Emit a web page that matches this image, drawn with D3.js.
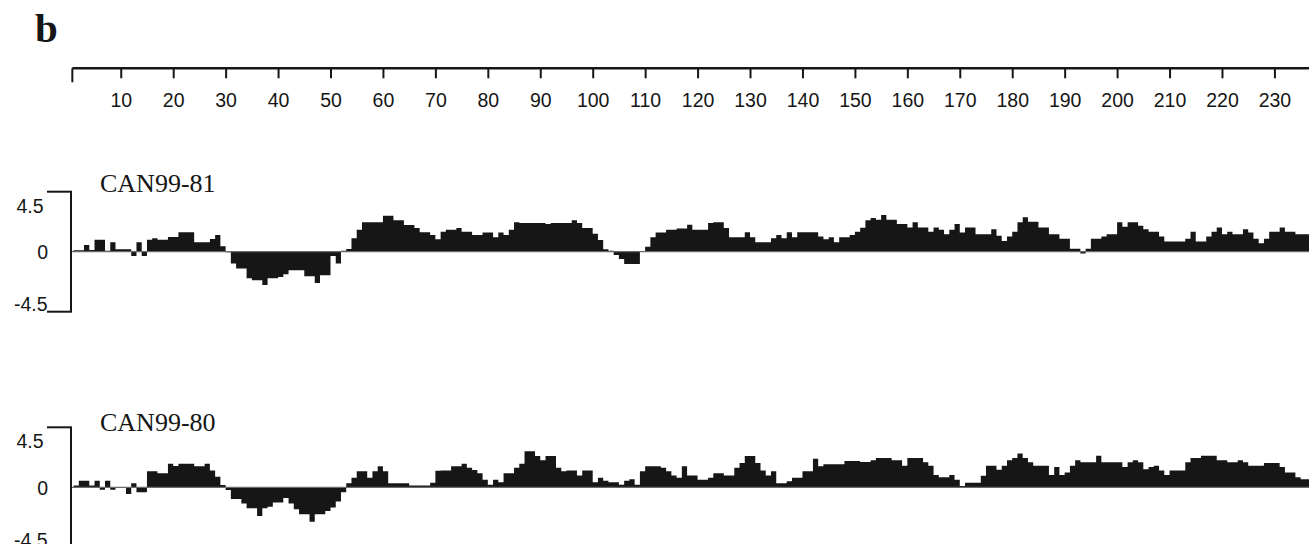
<!DOCTYPE html>
<html>
<head>
<meta charset="utf-8">
<script src="https://cdn.jsdelivr.net/npm/d3@7"></script>
<style>
  body { margin: 0; background: #fff; }
  svg { display: block; }
</style>
</head>
<body>
<svg id="chart" width="1309" height="544"></svg>
<script>
// residue profiles, one value per position (1..236)
const panelNames = ["CAN99-81", "CAN99-80"];

const can9981 = [
  0.1, 0.1, 0.5, 0.12, 0.9, 0.9, 0.08, 0.7, 0.18, 0.18,
  0.18, -0.33, 0.7, -0.33, 0.9, 1.0, 0.9, 0.9, 1.1, 1.1,
  1.45, 1.45, 1.45, 0.7, 0.7, 0.7, 0.95, 1.25, 0.4, -0.05,
  -0.88, -1.26, -1.26, -2.0, -2.15, -2.15, -2.5, -2.0, -2.0, -1.9,
  -1.7, -1.4, -1.4, -1.4, -1.85, -1.85, -2.35, -1.77, -1.77, -0.33,
  -0.88, 0.08, 0.2, 1.0, 1.64, 2.2, 2.2, 2.2, 2.2, 2.7,
  2.7, 2.35, 2.35, 2.0, 2.0, 1.77, 1.45, 1.45, 1.26, 0.93,
  1.5, 1.64, 1.64, 1.77, 1.5, 1.5, 1.26, 1.26, 1.44, 1.44,
  1.09, 1.44, 1.26, 1.64, 2.2, 2.15, 2.15, 2.15, 2.15, 2.15,
  2.07, 2.15, 2.15, 2.15, 2.15, 2.35, 2.15, 1.77, 1.77, 1.34,
  0.88, 0.18, 0.08, -0.25, -0.55, -0.93, -0.93, -0.93, 0.02, 0.38,
  1.09, 1.44, 1.44, 1.64, 1.64, 1.74, 1.74, 2.02, 1.64, 1.64,
  1.64, 2.15, 2.2, 2.2, 1.77, 1.09, 1.09, 1.09, 1.46, 1.09,
  0.71, 0.71, 0.71, 1.01, 1.26, 1.01, 1.46, 1.09, 1.46, 1.46,
  1.46, 1.46, 1.14, 0.93, 1.09, 0.71, 1.09, 1.09, 1.26, 1.5,
  1.8, 2.35, 2.52, 2.4, 2.75, 2.4, 2.4, 2.07, 2.07, 1.82,
  2.2, 1.82, 1.82, 1.49, 1.82, 1.64, 1.31, 1.64, 2.07, 1.44,
  1.82, 1.82, 1.31, 1.31, 1.31, 1.69, 1.19, 0.81, 1.14, 1.49,
  2.2, 2.58, 2.25, 2.25, 1.82, 1.82, 1.31, 1.31, 0.98, 0.98,
  0.23, 0.23, -0.13, 0.23, 0.98, 0.98, 1.14, 1.31, 1.31, 2.2,
  1.87, 2.2, 2.2, 1.94, 1.69, 1.49, 1.49, 1.14, 0.76, 0.76,
  0.76, 0.76, 0.98, 1.49, 0.76, 0.76, 1.14, 1.49, 1.82, 1.31,
  1.49, 1.31, 1.31, 1.69, 1.44, 0.98, 0.63, 0.98, 1.49, 1.49,
  1.82, 1.49, 1.49, 1.31, 1.31, 1.31
];

const can9980 = [
  0.13, 0.5, 0.5, 0.13, 0.5, -0.18, 0.5, -0.18, 0.02, 0.02,
  -0.5, 0.3, -0.38, -0.38, 1.2, 1.2, 1.06, 1.06, 1.77, 1.6,
  1.77, 1.77, 1.77, 1.57, 1.57, 1.77, 1.26, 0.8, 0.18, -0.2,
  -0.88, -0.88, -1.21, -1.57, -1.57, -2.15, -1.57, -1.46, -1.14, -1.14,
  -0.81, -1.21, -1.64, -2.02, -2.02, -2.58, -2.02, -2.02, -1.77, -1.52,
  -1.06, -0.38, 0.3, 0.71, 1.21, 1.21, 0.71, 1.21, 1.57, 1.21,
  0.3, 0.3, 0.3, 0.3, 0.13, 0.13, 0.13, 0.13, 0.34, 1.24,
  1.26, 1.26, 1.57, 1.57, 1.77, 1.46, 1.3, 1.06, 0.56, 0.2,
  0.56, 0.38, 1.06, 1.06, 1.46, 1.77, 2.7, 2.7, 2.35, 2.02,
  2.35, 2.35, 1.46, 1.21, 1.26, 1.26, 0.88, 1.26, 1.26, 0.38,
  0.71, 0.5, 0.38, 0.38, 0.2, 0.5, 0.6, 0.2, 1.21, 1.57,
  1.57, 1.57, 1.46, 1.21, 0.88, 0.71, 1.57, 0.88, 0.88, 0.56,
  0.56, 0.71, 1.06, 1.06, 0.88, 0.88, 1.46, 1.82, 2.35, 2.35,
  1.82, 1.26, 0.88, 1.21, 0.3, 0.3, 0.45, 0.71, 0.71, 1.21,
  1.21, 2.15, 1.57, 1.72, 1.72, 1.72, 1.72, 1.97, 1.97, 1.97,
  1.9, 1.9, 2.02, 2.2, 2.2, 2.2, 2.02, 2.02, 1.62, 2.2,
  2.2, 2.2, 1.87, 1.62, 0.93, 0.76, 0.76, 0.93, 0.56, 0.1,
  0.35, 0.35, 0.35, 0.86, 1.62, 1.62, 1.31, 1.62, 2.02, 2.2,
  2.53, 2.2, 1.87, 1.62, 1.62, 1.62, 0.93, 1.52, 0.93, 1.11,
  1.62, 2.02, 1.87, 1.87, 1.87, 2.37, 1.87, 1.87, 1.87, 1.87,
  1.52, 1.87, 2.02, 1.87, 1.36, 1.52, 1.62, 1.26, 0.93, 1.26,
  1.26, 1.26, 1.87, 2.2, 2.2, 2.37, 2.37, 2.37, 2.02, 2.02,
  1.87, 1.87, 2.02, 1.87, 1.62, 1.62, 1.62, 1.82, 1.82, 1.82,
  1.52, 1.11, 1.11, 0.76, 0.61, 0.61
];

const rulerTicks = d3.range(10, 240, 10);
const yTicks = [4.5, 0, -4.5];
const yTickLabels = ["4.5", "0", "-4.5"];
const yLimit = 4.5;

function drawChart() {
  const svg = d3.select("#chart");
  const width = 1309;
  const ink = "#161616";
  const sans = "'Liberation Sans', Arial, sans-serif";
  const serif = "'Liberation Serif', 'Times New Roman', serif";

  const nRes = can9981.length;
  const x = d3.scaleLinear()
    .domain([0, nRes])
    .range([68.3, 68.3 + 5.244 * nRes]);

  // --- PANEL LETTER ---
  svg.append("text")
    .attr("x", 35)
    .attr("y", 42)
    .attr("font-family", serif)
    .attr("font-weight", "bold")
    .attr("font-size", 41)
    .attr("fill", ink)
    .text("b");

  // --- POSITION RULER ---
  const rulerY = 68.3;
  const ruler = svg.append("g")
    .attr("transform", `translate(0,${rulerY})`)
    .call(d3.axisBottom(x).tickValues(rulerTicks).tickSize(10).tickSizeOuter(0));

  ruler.select(".domain").remove();
  ruler.selectAll(".tick line")
    .attr("stroke", ink)
    .attr("stroke-width", 2);
  ruler.selectAll(".tick text")
    .attr("y", 38.4)
    .attr("dy", null)
    .attr("font-family", sans)
    .attr("font-size", 19.5)
    .attr("fill", ink);

  ruler.append("line")
    .attr("x1", x(0.77)).attr("x2", width)
    .attr("y1", 0).attr("y2", 0)
    .attr("stroke", ink)
    .attr("stroke-width", 2.5);
  ruler.append("line")
    .attr("x1", x(0.77)).attr("x2", x(0.77))
    .attr("y1", 0).attr("y2", 14)
    .attr("stroke", ink)
    .attr("stroke-width", 2);

  // --- PROFILE PANELS ---
  const panelTops = [191.7, 427.3];
  const labelY = [191.5, 430.7];
  const profiles = [can9981, can9980];
  const axisX = 71;

  profiles.forEach((values, p) => {
    const top = panelTops[p];
    const y = d3.scaleLinear()
      .domain([-yLimit, yLimit])
      .range([top + 120, top]);

    const g = svg.append("g");

    // filled step profile
    const stepData = values.concat([values[values.length - 1]]);
    const area = d3.area()
      .curve(d3.curveStepAfter)
      .x((d, i) => x(i + 1))
      .y0(y(0))
      .y1(d => y(d));

    g.append("path")
      .datum(stepData)
      .attr("d", area)
      .attr("fill", ink);

    // zero baseline
    g.append("line")
      .attr("x1", axisX).attr("x2", width)
      .attr("y1", y(0)).attr("y2", y(0))
      .attr("stroke", "#6a6a6a")
      .attr("stroke-width", 1.2);

    // y axis bracket
    g.append("line")
      .attr("x1", axisX).attr("x2", axisX)
      .attr("y1", y(yLimit)).attr("y2", y(-yLimit))
      .attr("stroke", ink)
      .attr("stroke-width", 2);

    g.selectAll("line.ytick")
      .data(yTicks.filter(d => d !== 0))
      .enter()
      .append("line")
      .attr("class", "ytick")
      .attr("x1", 47).attr("x2", axisX + 1)
      .attr("y1", d => y(d)).attr("y2", d => y(d))
      .attr("stroke", ink)
      .attr("stroke-width", 2);

    // tick labels sit inside the bracket, below / above the end ticks
    g.selectAll("text.ylab")
      .data(yTicks)
      .enter()
      .append("text")
      .attr("class", "ylab")
      .attr("text-anchor", "end")
      .attr("x", d => d === 0 ? 48 : (d > 0 ? 43.5 : 47.5))
      .attr("y", d => d === 0 ? y(0) + 7.3 : (d > 0 ? y(d) + 21 : y(d) - 0.5))
      .attr("font-family", sans)
      .attr("font-size", 19.5)
      .attr("fill", ink)
      .text((d, i) => yTickLabels[i]);

    // panel name
    g.append("text")
      .attr("x", 100)
      .attr("y", labelY[p])
      .attr("font-family", serif)
      .attr("font-size", 26)
      .attr("fill", ink)
      .text(panelNames[p]);
  });
}

drawChart();
</script>
</body>
</html>
